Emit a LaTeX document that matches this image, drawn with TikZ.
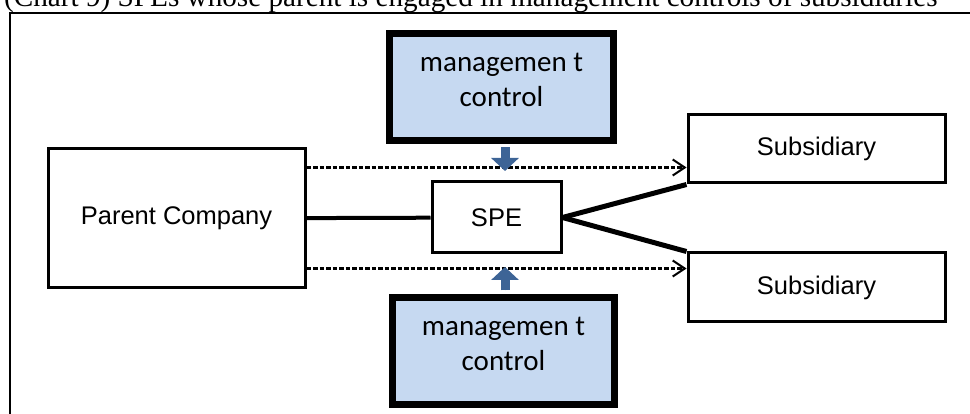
\documentclass[tikz,border=0pt]{standalone}
\usepackage{fontspec}
\setmainfont{Liberation Serif}
\newfontfamily\arialfont{Liberation Sans}
\newfontfamily\calibrifont{Carlito}
\usetikzlibrary{arrows.meta}
\definecolor{ctrlfill}{RGB}{198,217,241}
\definecolor{ctrlblue}{RGB}{61,100,150}
\tikzset{
  entity/.style={draw,line width=3pt,inner sep=0pt,font=\arialfont\fontsize{25.5}{30}\selectfont},
  ctrlbox/.style={draw,line width=7pt,fill=ctrlfill,inner sep=0pt,align=center,text depth=15pt,
    minimum width=224pt,minimum height=107pt,font=\calibrifont\fontsize{29}{35}\selectfont},
  ctrlarrow/.style={-{Triangle[width=27pt,length=13pt]},line width=9pt,draw=ctrlblue,fill=ctrlblue},
  flow/.style={dashed,dash pattern=on 4.5pt off 2pt,line width=2.5pt,-{Straight Barb[length=12pt,width=16pt,line width=2pt]}},
}
\begin{document}
\begin{tikzpicture}[x=1pt,y=-1pt]
\useasboundingbox (0,0) rectangle (970,414);
\node[anchor=base west,inner sep=0pt,font=\fontsize{29.2}{32}\selectfont] (title) at (4,7) {(Chart 9) SPEs whose parent is engaged in management controls of subsidiaries};
\draw[line width=2.5pt] (10,414) -- (10,13) -- (970,13);

\node[entity,minimum width=257pt,minimum height=139pt] (parent) at (176.5,218.5) {Parent Company};
\node[entity,minimum width=129pt,minimum height=71pt] (spe) at (496.5,217.5) {SPE};
\node[entity,minimum width=257pt,minimum height=68pt] (sub1) at (816.5,149) {Subsidiary};
\node[entity,minimum width=257pt,minimum height=69pt] (sub2) at (816.5,287.5) {Subsidiary};
\node[ctrlbox] (ctrl1) at (501.5,87) {managemen t\\control};
\node[ctrlbox,minimum width=222pt] (ctrl2) at (503.5,351) {managemen t\\control};

\draw[line width=4pt] (parent) -- (spe);
\draw[line width=5pt] (spe.east) -- (sub1.south west);
\draw[line width=5pt] (spe.east) -- (sub2.north west);

\draw[flow] ([yshift=-20pt]parent.north east) -- ([yshift=-20pt]parent.north east -| sub1.west);
\draw[flow] ([yshift=21pt]parent.south east) -- ([yshift=21pt]parent.south east -| sub2.west);

\draw[ctrlarrow] ([xshift=3.5pt,yshift=-3.5pt]ctrl1.south) -- ([xshift=3.5pt,yshift=-27pt]ctrl1.south);
\draw[ctrlarrow] ([xshift=1.5pt,yshift=3.5pt]ctrl2.north) -- ([xshift=1.5pt,yshift=27pt]ctrl2.north);
\end{tikzpicture}
\end{document}
